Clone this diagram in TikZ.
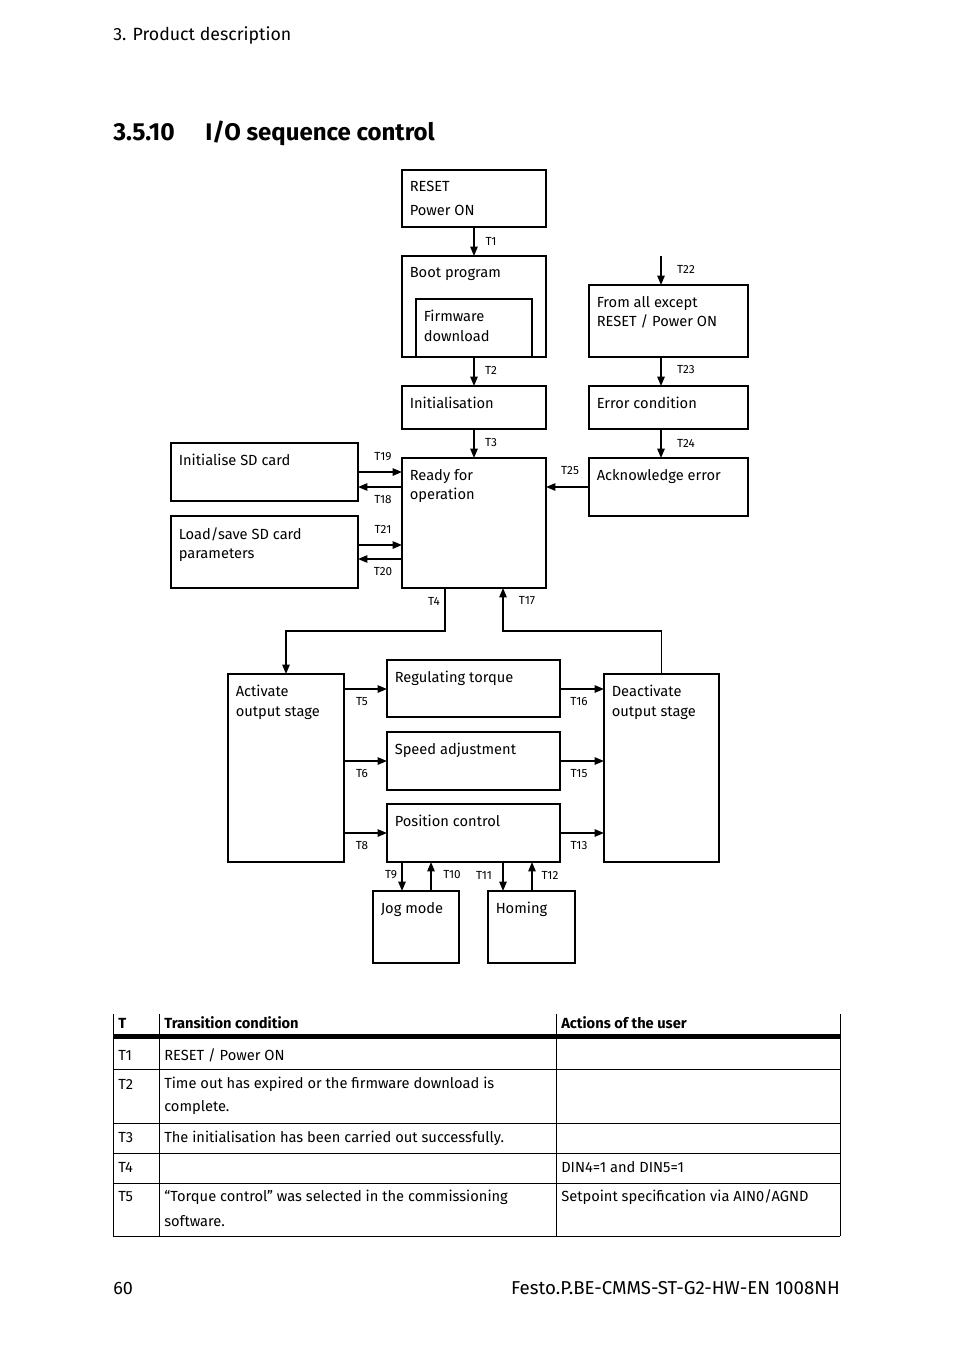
\documentclass[tikz,border=0pt]{standalone}
\usepackage{fontspec}
\setmainfont{Fira Sans}
\usetikzlibrary{arrows.meta,calc}
\newcommand\bt[6]{%
  \node[box, minimum width={(#4-#2)*0.75pt}, minimum height={(#5-#3)*0.75pt}] (#1) at (#2,#3) {};
  \node[txt] (#1-t) at ($(#1.north west)+(7.5,11)$) {#6};}
\begin{document}
\begin{tikzpicture}[x=0.75pt,y=-0.75pt,
  box/.style={draw, line width=0.8pt, rectangle, inner sep=0pt, outer sep=0pt, anchor=north west},
  txt/.style={anchor=north west, inner sep=0pt, align=left, font=\fontsize{11}{14.5}\selectfont},
  tl/.style={inner sep=0pt, font=\fontsize{8.8}{10}\selectfont},
  arr/.style={line width=1.1pt, -{Triangle[length=7pt,width=5.5pt]}},
  thk/.style={line width=1.6pt},
  tab/.style={line width=0.75pt},
  tt/.style={anchor=west, inner sep=0pt, font=\fontsize{11}{14.5}\selectfont},
  th/.style={anchor=west, inner sep=0pt, font=\fontsize{11}{12}\bfseries}]
\useasboundingbox (0,0) rectangle (954,1350);
% page header
\node[anchor=west, inner sep=0pt, font=\fontsize{13.3}{15}\selectfont] (hdr) at (113,35) {3. Product description};
\node[anchor=base west, inner sep=0pt, font=\fontsize{18.5}{20}\bfseries] (ttlnum) at (113,140) {3.5.10};
\node[anchor=base west, inner sep=0pt, font=\fontsize{18}{20}\bfseries] (ttl) at (205,140) {I/O sequence control};
% boxes
\bt{reset}{402}{170}{546}{227}{RESET\\[3.5pt]Power ON}
\bt{boot}{402}{256}{546}{357}{Boot program}
\bt{fw}{416}{299}{532}{357}{Firmware\\download}
\bt{init}{402}{386}{546}{429}{Initialisation}
\bt{ready}{402}{458}{546}{588}{Ready for\\operation}
\bt{fromall}{589}{285}{748}{357}{From all except\\RESET / Power ON}
\bt{errc}{589}{386}{748}{429}{Error condition}
\bt{ack}{589}{458}{748}{516}{Acknowledge error}
\bt{initsd}{171}{443}{358}{501}{Initialise SD card}
\bt{loadsd}{171}{516}{358}{588}{Load/save SD card\\parameters}
\bt{act}{228}{674}{344}{862}{Activate\\output stage}
\bt{reg}{387}{660}{560}{717}{Regulating torque}
\bt{speed}{387}{732}{560}{790}{Speed adjustment}
\bt{pos}{387}{804}{560}{862}{Position control}
\bt{deact}{604}{674}{719}{862}{Deactivate\\output stage}
\bt{jog}{373}{891}{459}{963}{Jog mode}
\bt{hom}{488}{891}{575}{963}{Homing}
% heavier edges as printed
\draw[thk] (reset.north west) -- (reset.north east);
\draw[thk] (initsd.north west) -- (initsd.north east);
\draw[thk] (fw.north east) -- (fw.south east);
\draw[thk] (reg.south west) -- (reg.south east);
\draw[thk] (act.north west) -- (act.south west);
% connectors
\draw[arr] (reset.south) -- (boot.north);
\draw[arr] (boot.south) -- (init.north);
\draw[arr] (init.south) -- (ready.north);
\coordinate (s22) at (661,256);
\draw[arr] (s22) -- (s22 |- fromall.north);
\draw[arr] ($(fromall.south)+(-7.5,0)$) coordinate (a) -- (a |- errc.north);
\draw[arr] ($(errc.south)+(-7.5,0)$) coordinate (a) -- (a |- ack.north);
\draw[arr] (ack.west) -- (ack.west -| ready.east);
\draw[arr] (initsd.east) -- (initsd.east -| ready.west);
\draw[arr] ($(ready.north west)+(0,29)$) coordinate (a) -- (a -| initsd.east);
\draw[arr] ($(loadsd.north east)+(0,29)$) coordinate (a) -- (a -| ready.west);
\draw[arr] ($(ready.north west)+(0,101)$) coordinate (a) -- (a -| loadsd.east);
\draw[arr] ($(ready.south)+(-29,0)$) -- ++(0,43) -| (act.north);
\draw[arr] (deact.north) -- ++(0,-43) -| ($(ready.south)+(29,0)$);
\draw[arr] ($(act.north east)+(0,15)$) coordinate (a) -- (a -| reg.west);
\draw[arr] ($(act.north east)+(0,87)$) coordinate (a) -- (a -| speed.west);
\draw[arr] ($(act.north east)+(0,159)$) coordinate (a) -- (a -| pos.west);
\draw[arr] ($(reg.north east)+(0,29)$) coordinate (a) -- (a -| deact.west);
\draw[arr] ($(speed.north east)+(0,29)$) coordinate (a) -- (a -| deact.west);
\draw[arr] ($(pos.north east)+(0,29)$) coordinate (a) -- (a -| deact.west);
\draw[arr] ($(pos.south west)+(15,0)$) coordinate (a) -- (a |- jog.north);
\draw[arr] ($(jog.north west)+(58,0)$) coordinate (a) -- (a |- pos.south);
\draw[arr] ($(pos.south west)+(116,0)$) coordinate (a) -- (a |- hom.north);
\draw[arr] ($(hom.north west)+(44,0)$) coordinate (a) -- (a |- pos.south);
% transition labels
\node[tl] (l1) at (491,241) {T1};
\node[tl] (l2) at (491,370) {T2};
\node[tl] (l3) at (491,443) {T3};
\node[tl] (l22) at (686,269) {T22};
\node[tl] (l23) at (686,370) {T23};
\node[tl] (l24) at (686,443) {T24};
\node[tl] (l25) at (570,471) {T25};
\node[tl] (l19) at (383,457) {T19};
\node[tl] (l18) at (383,500) {T18};
\node[tl] (l21) at (383,529) {T21};
\node[tl] (l20) at (383,572) {T20};
\node[tl] (l4) at (434,601) {T4};
\node[tl] (l17) at (527,601) {T17};
\node[tl] (l5) at (362,702) {T5};
\node[tl] (l6) at (362,774) {T6};
\node[tl] (l8) at (362,846) {T8};
\node[tl] (l16) at (579,702) {T16};
\node[tl] (l15) at (579,774) {T15};
\node[tl] (l13) at (579,846) {T13};
\node[tl] (l9) at (391,875) {T9};
\node[tl] (l10) at (452,875) {T10};
\node[tl] (l11) at (484,875) {T11};
\node[tl] (l12) at (550,875) {T12};
% table
\foreach \x in {113,159,556,840} \draw[tab] (\x,1014) -- (\x,1236);
\fill (113,1034) rectangle (840,1039);
\foreach \y in {1069,1123,1153,1183,1236} \draw[tab] (113,\y) -- (840,\y);
\node[th] (h1) at (118,1023) {T};
\node[th] (h2) at (164,1023) {Transition condition};
\node[th] (h3) at (561,1023) {Actions of the user};
\node[tt] (r1a) at (118,1055) {T1};
\node[tt] (r1b) at (164,1055) {RESET / Power ON};
\node[tt] (r2a) at (118,1084) {T2};
\node[tt] (r2b) at (164,1084) {Time out has expired or the firmware download is};
\node[tt] (r2c) at (164,1108) {complete.};
\node[tt] (r3a) at (118,1138) {T3};
\node[tt] (r3b) at (164,1138) {The initialisation has been carried out successfully.};
\node[tt] (r4a) at (118,1167) {T4};
\node[tt] (r4c) at (561,1167) {DIN4=1 and DIN5=1};
\node[tt] (r5a) at (118,1197) {T5};
\node[tt] (r5b) at (164,1197) {“Torque control” was selected in the commissioning};
\node[tt] (r5c) at (164,1221) {software.};
\node[tt] (r5d) at (561,1197) {Setpoint specification via AIN0/AGND};
% footer
\node[anchor=west, inner sep=0pt, font=\fontsize{13.5}{15}\selectfont] (pg) at (113,1288) {60};
\node[anchor=east, inner sep=0pt, font=\fontsize{14}{15}\selectfont] (doc) at (840,1288) {Festo.P.BE-CMMS-ST-G2-HW-EN 1008NH};
\end{tikzpicture}
\end{document}
